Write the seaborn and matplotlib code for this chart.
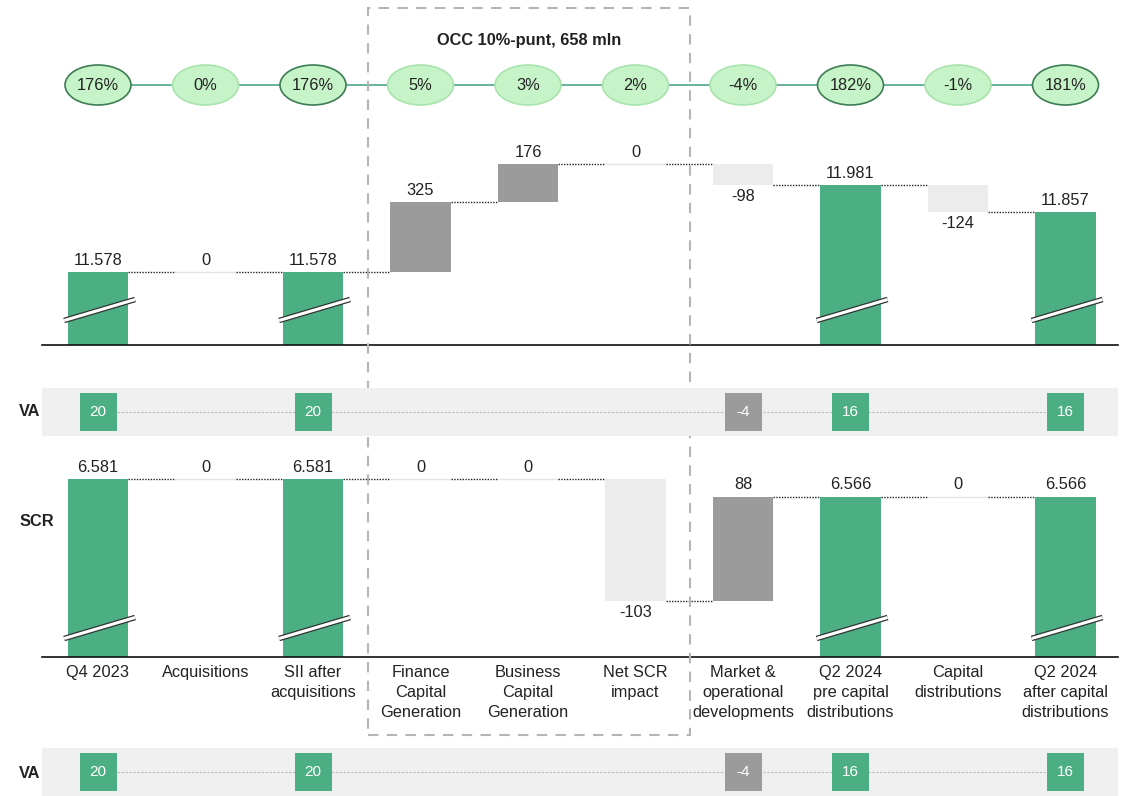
import numpy as np
import pandas as pd
import matplotlib.pyplot as plt
import matplotlib.transforms as mtransforms
from matplotlib.patches import Ellipse, Rectangle
import seaborn as sns

sns.set_theme(style="white")
plt.rcParams['font.family'] = ['Liberation Sans', 'DejaVu Sans']

# data
categories = ["Q4 2023", "Acquisitions", "SII after\nacquisitions", "Finance\nCapital\nGeneration",
              "Business\nCapital\nGeneration", "Net SCR\nimpact", "Market &\noperational\ndevelopments",
              "Q2 2024\npre capital\ndistributions", "Capital\ndistributions",
              "Q2 2024\nafter capital\ndistributions"]
is_total = [True, False, True, False, False, False, False, True, False, True]
sii_values = [11578, 0, 11578, 325, 176, 0, -98, 11981, -124, 11857]
scr_values = [6581, 0, 6581, 0, 0, -103, 88, 6566, 0, 6566]
ratio_labels = ["176%", "0%", "176%", "5%", "3%", "2%", "-4%", "182%", "-1%", "181%"]
va_values = [20, None, 20, None, None, None, -4, 16, None, 16]
occ_title = "OCC 10%-punt, 658 mln"

GREEN = "#4caf84"
POS = "#9b9b9b"
NEG = "#ececec"
BUBBLE = "#c6f3c8"
BW = 0.56
FS = 11.8

W, H = 1128, 796
fig = plt.figure(figsize=(W / 100, H / 100), dpi=100)


def px_axes(x0, y0, x1, y1, **kw):
    return fig.add_axes([x0 / W, 1 - y1 / H, (x1 - x0) / W, (y1 - y0) / H], **kw)


XLIM = ((42 - 98) / 107.5, (1118 - 98) / 107.5)


def fmt(v):
    return f"{v:,}".replace(",", ".")


def waterfall(ax, values, ylim, brk):
    tot = pd.DataFrame({"cat": [c for c, t in zip(categories, is_total) if t],
                        "val": [v for v, t in zip(values, is_total) if t]})
    sns.barplot(data=tot, x="cat", y="val", order=categories, color=GREEN,
                saturation=1, width=BW, linewidth=0, ax=ax)
    level = 0
    levels = []
    for i, (v, t) in enumerate(zip(values, is_total)):
        if t:
            level = v
            ax.annotate(fmt(v), (i, v), xytext=(0, 3), textcoords="offset points",
                        ha="center", va="bottom", fontsize=FS, color="#222")
        else:
            if v > 0:
                ax.bar(i, v, bottom=level, width=BW, color=POS, linewidth=0)
            elif v < 0:
                ax.bar(i, -v, bottom=level + v, width=BW, color=NEG, linewidth=0)
            else:
                ax.plot([i - BW / 2, i + BW / 2], [level, level], color="#e4e4e4", lw=1)
            if v >= 0:
                ax.annotate(fmt(v), (i, level + v), xytext=(0, 3), textcoords="offset points",
                            ha="center", va="bottom", fontsize=FS, color="#222")
            else:
                ax.annotate(fmt(v), (i, level + v), xytext=(0, -3), textcoords="offset points",
                            ha="center", va="top", fontsize=FS, color="#222")
            level += v
        levels.append(level)
    for i in range(len(values) - 1):
        ax.plot([i + BW / 2, i + 1 - BW / 2], [levels[i]] * 2, color="#222", lw=1,
                ls=(0, (1, 1)))
    # axis break marks on total bars
    trans = mtransforms.blended_transform_factory(ax.transData, ax.transAxes)
    d = 10.5 / (ax.get_position().height * H)
    for i, t in enumerate(is_total):
        if t:
            xs = [i - BW / 2 - 0.035, i + BW / 2 + 0.065]
            ys = [brk - d, brk + d]
            ax.plot(xs, ys, transform=trans, color="#333", lw=4, solid_capstyle="butt", zorder=5)
            ax.plot(xs, ys, transform=trans, color="white", lw=2.2, solid_capstyle="butt", zorder=6)
    ax.set_xlim(XLIM)
    ax.set_ylim(ylim)
    ax.set_facecolor("none")
    for s in ["top", "left", "right"]:
        ax.spines[s].set_visible(False)
    ax.spines["bottom"].set_color("#111")
    ax.spines["bottom"].set_linewidth(1.2)
    ax.set_yticks([])
    ax.set_xlabel("")
    ax.set_ylabel("")


# upper waterfall (eigen vermogen)
ax_up = px_axes(42, 140, 1118, 345)
waterfall(ax_up, sii_values, (11239, 12191), 35 / 205)
ax_up.set_xticks([])

# lower waterfall (SCR)
ax_lo = px_axes(42, 455, 1118, 657)
waterfall(ax_lo, scr_values, (6431, 6601), 29 / 202)
ax_lo.set_xticks(range(len(categories)))
ax_lo.set_xticklabels(categories, fontsize=FS, color="#222", linespacing=1.4)
ax_lo.tick_params(axis="x", length=0, pad=6)

# ratio bubbles
ax_b = px_axes(42, 60, 1118, 110)
ax_b.set_xlim(XLIM)
ax_b.set_ylim(0, 1)
ax_b.axis("off")
ax_b.plot([0, len(categories) - 1], [0.5, 0.5], color="#5aab97", lw=1.3, zorder=1)
for i, (lab, t) in enumerate(zip(ratio_labels, is_total)):
    ax_b.add_patch(Ellipse((i, 0.5), 66 / 107.5, 40 / 50, facecolor=BUBBLE,
                           edgecolor="#3d7d55" if t else "#a9e3ad", lw=1.2, zorder=2))
    ax_b.text(i, 0.5, lab, ha="center", va="center", fontsize=FS, color="#222", zorder=3)


# VA bands
def va_band(y0, y1):
    ax = px_axes(42, y0, 1118, y1, zorder=3)
    ax.set_xlim(XLIM)
    ax.set_ylim(0, 1)
    ax.set_facecolor("#f0f0f0")
    ax.set_xticks([])
    ax.set_yticks([])
    for s in ax.spines.values():
        s.set_visible(False)
    idx = [i for i, v in enumerate(va_values) if v is not None]
    ax.plot([idx[0], idx[-1]], [0.5, 0.5], color="#b8b8b8", lw=0.8, ls=(0, (2, 1.5)), zorder=1)
    bw, bh = 37 / 107.5, 38 / (y1 - y0)
    for i in idx:
        v = va_values[i]
        c = GREEN if is_total[i] else POS
        ax.add_patch(Rectangle((i - bw / 2, 0.5 - bh / 2), bw, bh, facecolor=c, lw=0, zorder=2))
        ax.text(i, 0.5, str(v), ha="center", va="center", color="white", fontsize=11, zorder=3)
    return ax


va_band(388, 436)
va_band(748, 796)

# side labels
fig.text(30 / W, 1 - 411 / H, "VA", ha="center", va="center", fontsize=FS, fontweight="bold", color="#222")
fig.text(30 / W, 1 - 773 / H, "VA", ha="center", va="center", fontsize=FS, fontweight="bold", color="#222")
fig.text(37 / W, 1 - 522 / H, "SCR", ha="center", va="center", fontsize=FS, fontweight="bold", color="#222")

# OCC dashed box
fig.patches.append(Rectangle((368 / W, 1 - 735 / H), (690 - 368) / W, (735 - 8) / H,
                             transform=fig.transFigure, fill=False, edgecolor="#b5b5b5",
                             lw=1.5, ls=(0, (5, 4)), zorder=1))
fig.text(529 / W, 1 - 40 / H, occ_title, ha="center", va="center", fontsize=FS,
         fontweight="bold", color="#222")

fig.savefig("out.png", dpi=100, facecolor="white")
